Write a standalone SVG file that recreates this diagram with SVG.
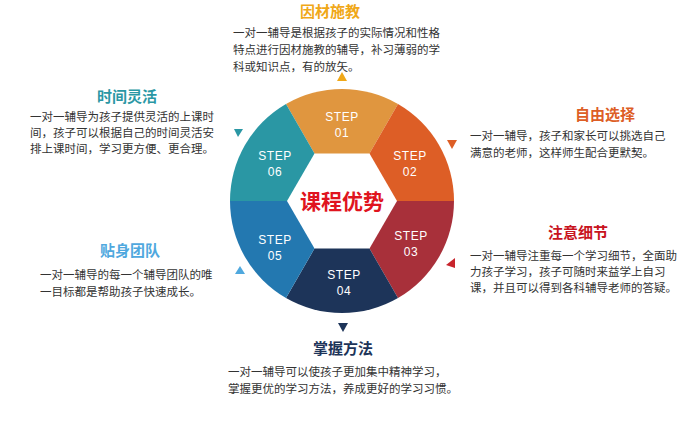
<svg xmlns="http://www.w3.org/2000/svg" width="700" height="425" viewBox="0 0 700 425">
<style>
.b{font-family:"Noto Sans CJK SC","Liberation Sans",sans-serif;font-size:11.5px;fill:#333}
.t{font-family:"Noto Sans CJK SC","Liberation Sans",sans-serif;font-size:15px;font-weight:bold;text-anchor:middle}
.s{font-family:"Liberation Sans",sans-serif;font-size:12px;fill:#fff;text-anchor:middle;letter-spacing:0.5px}
</style>
<rect width="700" height="425" fill="#fff"/>
<g id="connectors">
<polygon points="342,72 337,81 347,81" fill="#F0A818"/>
<polygon points="447,140 457,140 452,149" fill="#DD5E26"/>
<polygon points="446,265 455,258 455,268" fill="#C8242C"/>
<polygon points="338,323 348,323 343,332" fill="#1D3459"/>
<polygon points="240,266 235,274 245,274" fill="#4FA8DE"/>
<polygon points="234,129 243,129 238,137" fill="#2A97A4"/>
</g>
<g id="step01"><path d="M398,104 A112,112 0 0 0 286,104 L314.5,153.4 L369.5,153.4 Z" fill="#E0963F"/><text class="s" x="342" y="121">STEP</text><text class="s" x="342" y="137">01</text></g>
<g id="step02"><path d="M454,201 A112,112 0 0 0 398,104 L369.5,153.4 L397,201 Z" fill="#DD5E26"/><text class="s" x="410" y="160">STEP</text><text class="s" x="410" y="176">02</text></g>
<g id="step03"><path d="M398,298 A112,112 0 0 0 454,201 L397,201 L369.5,248.6 Z" fill="#A8303A"/><text class="s" x="411" y="240">STEP</text><text class="s" x="411" y="256">03</text></g>
<g id="step04"><path d="M286,298 A112,112 0 0 0 398,298 L369.5,248.6 L314.5,248.6 Z" fill="#1D3459"/><text class="s" x="344" y="279">STEP</text><text class="s" x="344" y="295">04</text></g>
<g id="step05"><path d="M230,201 A112,112 0 0 0 286,298 L314.5,248.6 L287,201 Z" fill="#2378B0"/><text class="s" x="275" y="244">STEP</text><text class="s" x="275" y="260">05</text></g>
<g id="step06"><path d="M286,104 A112,112 0 0 0 230,201 L287,201 L314.5,153.4 Z" fill="#2A97A4"/><text class="s" x="275" y="160">STEP</text><text class="s" x="275" y="176">06</text></g>
<g id="center"><text x="342" y="209" text-anchor="middle" font-family="Noto Sans CJK SC,sans-serif" font-size="21" font-weight="bold" fill="#E0141E">课程优势</text></g>
<g id="n1"><text class="t" x="330" y="17" fill="#F0A818">因材施教</text>
<text class="b" x="233" y="37">一对一辅导是根据孩子的实际情况和性格</text><text class="b" x="233" y="54">特点进行因材施教的辅导，补习薄弱的学</text><text class="b" x="233" y="71">科或知识点，有的放矢。</text></g>
<g id="n2"><text class="t" x="605" y="120" fill="#DD5E26">自由选择</text>
<text class="b" x="470" y="140">一对一辅导，孩子和家长可以挑选自己</text><text class="b" x="470" y="157">满意的老师，这样师生配合更默契。</text></g>
<g id="n3"><text class="t" x="578" y="238" fill="#C8141E">注意细节</text>
<text class="b" x="470" y="260">一对一辅导注重每一个学习细节，全面助</text><text class="b" x="470" y="276">力孩子学习，孩子可随时来益学上自习</text><text class="b" x="470" y="292">课，并且可以得到各科辅导老师的答疑。</text></g>
<g id="n4"><text class="t" x="343" y="354" fill="#1D3459">掌握方法</text>
<text class="b" x="228" y="376">一对一辅导可以使孩子更加集中精神学习，</text><text class="b" x="228" y="393">掌握更优的学习方法，养成更好的学习习惯。</text></g>
<g id="n5"><text class="t" x="130" y="256" fill="#4FA8DE">贴身团队</text>
<text class="b" x="40" y="279">一对一辅导的每一个辅导团队的唯</text><text class="b" x="40" y="296">一目标都是帮助孩子快速成长。</text></g>
<g id="n6"><text class="t" x="127" y="102" fill="#2A97A4">时间灵活</text>
<text class="b" x="30" y="121">一对一辅导为孩子提供灵活的上课时</text><text class="b" x="30" y="137">间，孩子可以根据自己的时间灵活安</text><text class="b" x="30" y="153">排上课时间，学习更方便、更合理。</text></g>
</svg>
